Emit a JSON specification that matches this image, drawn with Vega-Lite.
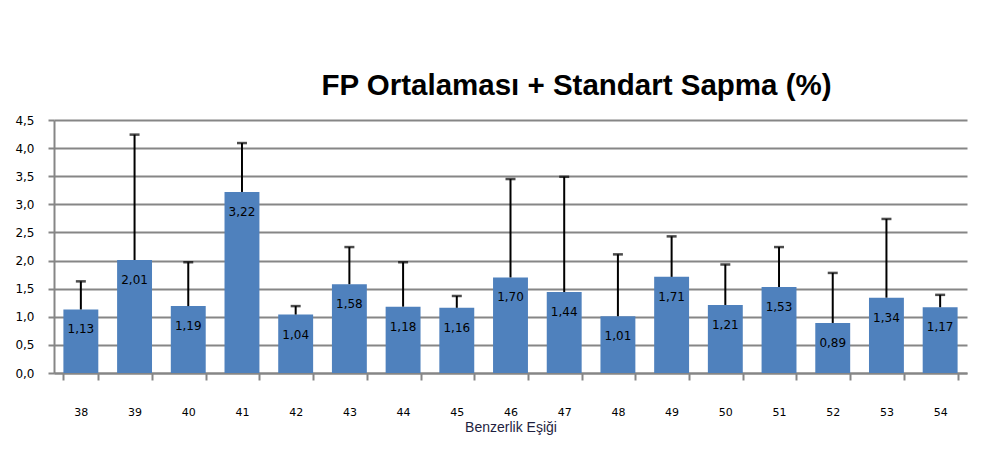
{
  "$schema": "https://vega.github.io/schema/vega-lite/v6.json",
  "width": 913,
  "height": 253,
  "autosize": {"type": "none"},
  "padding": {"left": 54, "top": 120, "right": 22, "bottom": 80},
  "background": "white",
  "title": {
    "text": "FP Ortalaması + Standart Sapma (%)",
    "font": "Liberation Sans",
    "fontSize": 29.5,
    "fontWeight": "bold",
    "color": "#000000",
    "anchor": "middle",
    "dx": 66,
    "offset": 13
  },
  "data": {
    "values": [
      {"esik": "38", "mean": 1.13, "top": 1.63},
      {"esik": "39", "mean": 2.01, "top": 4.24},
      {"esik": "40", "mean": 1.19, "top": 1.97},
      {"esik": "41", "mean": 3.22, "top": 4.09},
      {"esik": "42", "mean": 1.04, "top": 1.19},
      {"esik": "43", "mean": 1.58, "top": 2.24},
      {"esik": "44", "mean": 1.18, "top": 1.97},
      {"esik": "45", "mean": 1.16, "top": 1.37},
      {"esik": "46", "mean": 1.70, "top": 3.45},
      {"esik": "47", "mean": 1.44, "top": 3.49},
      {"esik": "48", "mean": 1.01, "top": 2.11},
      {"esik": "49", "mean": 1.71, "top": 2.43},
      {"esik": "50", "mean": 1.21, "top": 1.93},
      {"esik": "51", "mean": 1.53, "top": 2.24},
      {"esik": "52", "mean": 0.89, "top": 1.78},
      {"esik": "53", "mean": 1.34, "top": 2.74},
      {"esik": "54", "mean": 1.17, "top": 1.39}
    ]
  },
  "transform": [
    {"calculate": "replace(format(datum.mean, '.2f'), '.', ',')", "as": "label"}
  ],
  "encoding": {
    "x": {
      "field": "esik",
      "type": "ordinal",
      "sort": null,
      "scale": {"paddingInner": 0.35, "paddingOuter": 0.175},
      "axis": {
        "title": "Benzerlik Eşiği",
        "titleFont": "Liberation Sans",
        "titleFontSize": 14,
        "titleFontWeight": "normal",
        "titleColor": "#1f1f3f",
        "titlePadding": 3,
        "labelAngle": 0,
        "labelFont": "DejaVu Sans",
        "labelFontSize": 11,
        "labelColor": "#000000",
        "labelPadding": 26,
        "tickBand": "extent",
        "tickSize": 7,
        "tickColor": "#868686",
        "tickWidth": 2,
        "domainColor": "#868686",
        "domainWidth": 2
      }
    }
  },
  "layer": [
    {
      "mark": {"type": "bar", "color": "#4F81BD"},
      "encoding": {
        "y": {
          "field": "mean",
          "type": "quantitative",
          "title": null,
          "scale": {"domain": [0, 4.5], "nice": false}
        }
      }
    },
    {
      "mark": {"type": "rule", "color": "#000000", "strokeWidth": 2},
      "encoding": {
        "y": {"field": "mean", "type": "quantitative", "title": null},
        "y2": {"field": "top"}
      }
    },
    {
      "mark": {"type": "tick", "color": "#000000", "thickness": 2.5, "size": 10, "orient": "horizontal"},
      "encoding": {
        "y": {"field": "top", "type": "quantitative", "title": null}
      }
    },
    {
      "mark": {"type": "text", "font": "DejaVu Sans", "fontSize": 12, "color": "#000000", "baseline": "middle", "dy": 20},
      "encoding": {
        "y": {"field": "mean", "type": "quantitative", "title": null},
        "text": {"field": "label"}
      }
    }
  ],
  "config": {
    "view": {"stroke": null},
    "axisY": {
      "tickCount": 10,
      "labelOverlap": false,
      "labelExpr": "replace(format(datum.value, '.1f'), '.', ',')",
      "labelFont": "DejaVu Sans",
      "labelFontSize": 12,
      "labelColor": "#000000",
      "labelPadding": 14,
      "tickSize": 6,
      "tickColor": "#868686",
      "tickWidth": 2,
      "grid": true,
      "gridColor": "#868686",
      "gridWidth": 2,
      "domainColor": "#868686",
      "domainWidth": 2
    }
  }
}
